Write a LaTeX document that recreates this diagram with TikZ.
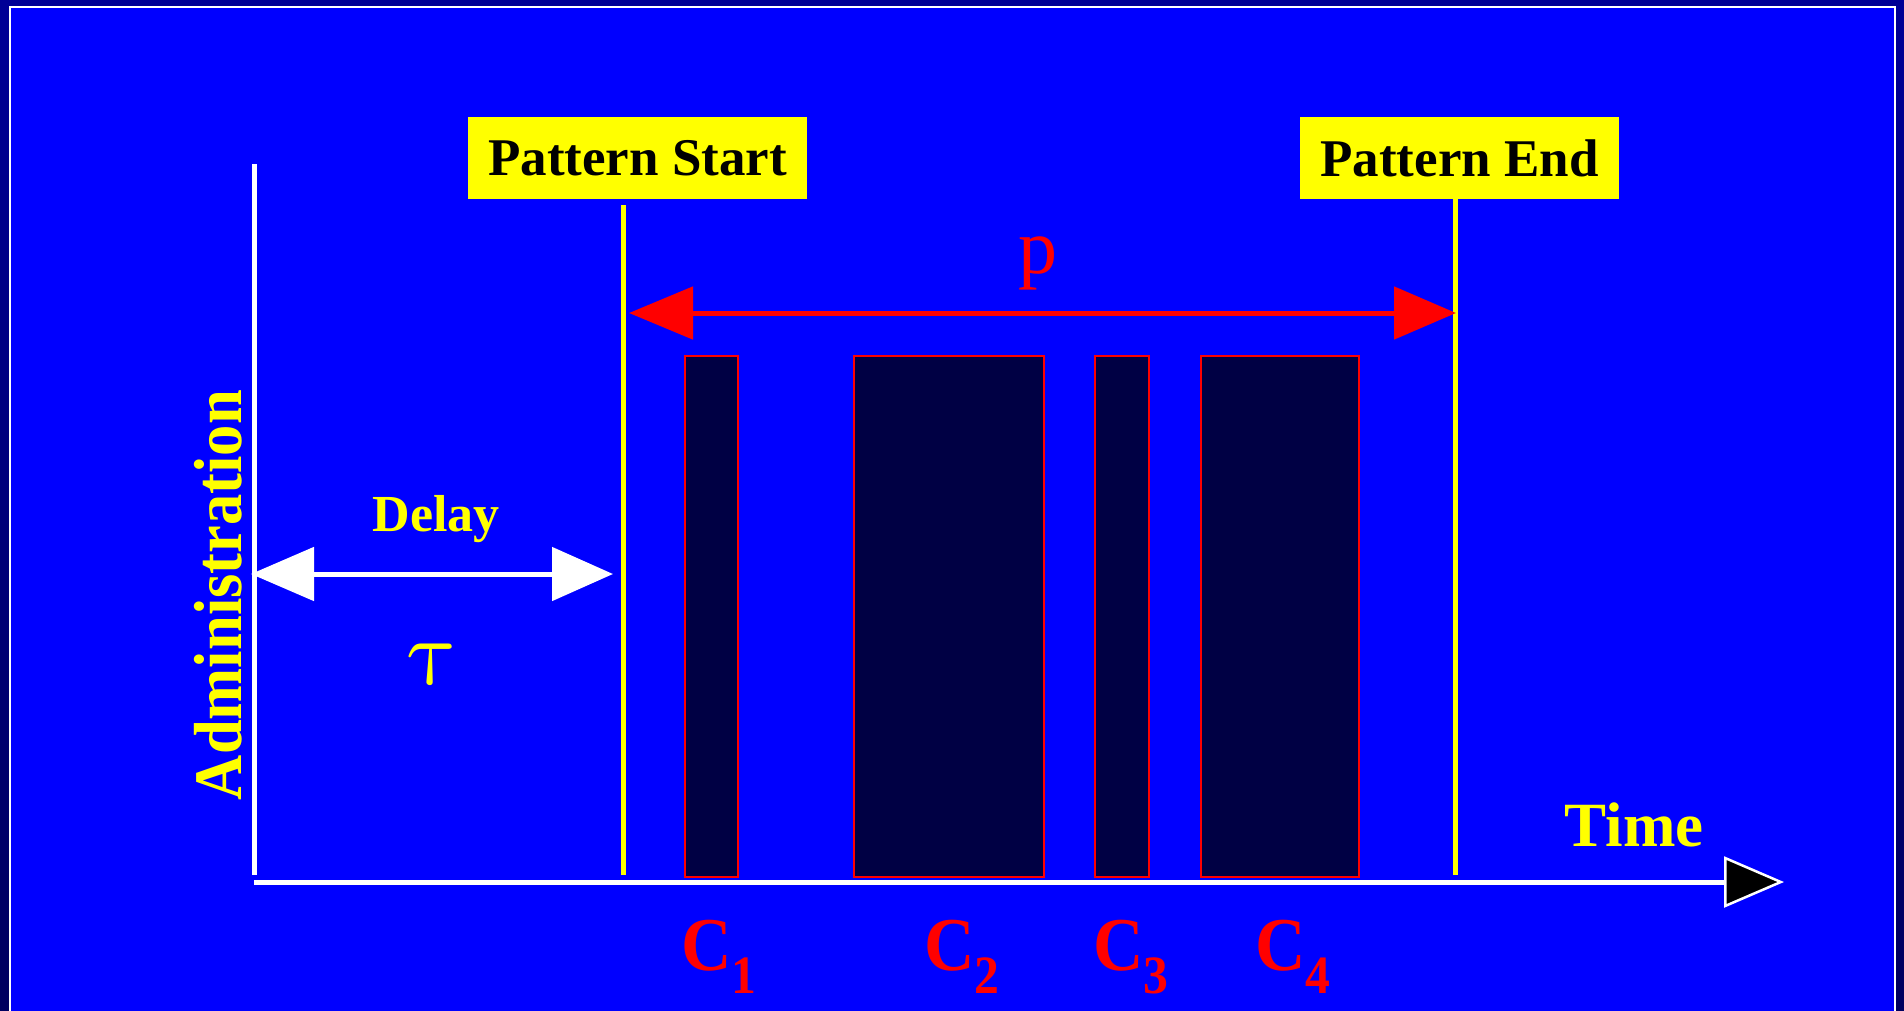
\documentclass[tikz,border=0pt]{standalone}
\usepackage{fontspec}
\usepackage{graphicx}
\setmainfont{Liberation Serif}
\newfontfamily\condfont{Liberation Serif}[FakeStretch=0.92]
\newfontfamily\adminfont{Liberation Serif}[FakeStretch=0.92]
\usetikzlibrary{arrows.meta}
\definecolor{bgdark}{RGB}{0,0,150}
\definecolor{bgdarker}{RGB}{0,0,95}
\definecolor{panel}{RGB}{0,0,255}
\definecolor{navy}{RGB}{0,0,68}
\definecolor{yel}{RGB}{255,255,0}
\definecolor{redc}{RGB}{255,0,0}
\newcommand{\csub}[1]{{\fontsize{76}{76}\selectfont C}\raisebox{-23pt}{\fontsize{54}{54}\selectfont #1}}
\tikzset{
  patbox/.style={fill=yel, text=black, inner sep=0, minimum width=339, minimum height=82,
    font=\fontsize{53}{53}\selectfont\bfseries},
  cbox/.style={draw=redc, fill=navy, line width=2.5, inner sep=0, minimum height=521},
  clabel/.style={text=redc, inner sep=0, anchor=base west, font=\condfont\bfseries},
  yellabel/.style={text=yel, inner sep=0, anchor=base},
  axisline/.style={white, line width=5},
  markline/.style={yel, line width=5},
}
\begin{document}
\begin{tikzpicture}[x=1pt,y=-1pt]
\useasboundingbox (0,0) rectangle (1904,1010);
\clip (0,0) rectangle (1904,1010);
\shade[top color=bgdark,bottom color=bgdarker] (0,0) rectangle (1904,1010);
\fill[panel] (10,7) rectangle (1895,1030);
\draw[white,line width=2.5] (10,1030) -- (10,7) -- (1895,7) -- (1895,1030);

% axes
\coordinate (yTop) at (254,164);
\coordinate (yBot) at (254,875);
\coordinate (xStart) at (254,882);
\coordinate (xEnd) at (1784,882);
\draw[axisline] (yTop) -- (yBot);
\draw[axisline, -{Triangle[length=60pt,width=51pt,fill=black,line width=2.5pt]}] (xStart) -- (xEnd);

% pattern boxes and marker lines
\node[patbox] (ps) at (637.5,158) {Pattern Start};
\node[patbox, minimum width=319] (pe) at (1459.5,158) {Pattern End};
\coordinate (psTop) at (623,205);
\coordinate (psBot) at (623,875);
\coordinate (peBot) at (1455,875);
\draw[markline] (psTop) -- (psBot);
\draw[markline] (pe.south -| peBot) -- (peBot);

% period arrow
\coordinate (pL) at (629,313);
\coordinate (pR) at (1456,313);
\draw[redc, line width=5, {Triangle[length=64pt,width=52pt]}-{Triangle[length=62pt,width=52pt]}] (pL) -- (pR);
\node[yellabel, text=redc, font=\fontsize{78}{78}\selectfont] (plab) at (1038,273) {p};

% delay arrow
\coordinate (dL) at (251,574);
\coordinate (dR) at (613,574);
\draw[white, line width=5, {Triangle[length=63pt,width=53pt]}-{Triangle[length=61pt,width=53pt]}] (dL) -- (dR);
\node[yellabel, font=\fontsize{52}{52}\selectfont\bfseries] (delay) at (436,531) {Delay};
\begin{scope}[shift={(438,684)}, xslant=-0.22]
  \node[yellabel, transform shape] (tau) at (0,0) {\scalebox{9.4}{$\tau$}};
\end{scope}

% time and administration labels
\node[yellabel, font=\fontsize{63}{63}\selectfont\bfseries] (time) at (1634,846) {Time};
\node[yellabel, rotate=90, font=\adminfont\fontsize{68}{68}\selectfont\bfseries] (admin) at (241,595) {Administration};

% computation boxes
\node[cbox, minimum width=53] (c1) at (711.5,616.5) {};
\node[cbox, minimum width=190] (c2) at (949,616.5) {};
\node[cbox, minimum width=54] (c3) at (1122,616.5) {};
\node[cbox, minimum width=158] (c4) at (1280,616.5) {};

% labels
\node[clabel] (l1) at (681,970) {\csub{1}};
\node[clabel] (l2) at (924,970) {\csub{2}};
\node[clabel] (l3) at (1093,970) {\csub{3}};
\node[clabel] (l4) at (1255,970) {\csub{4}};
\end{tikzpicture}
\end{document}
